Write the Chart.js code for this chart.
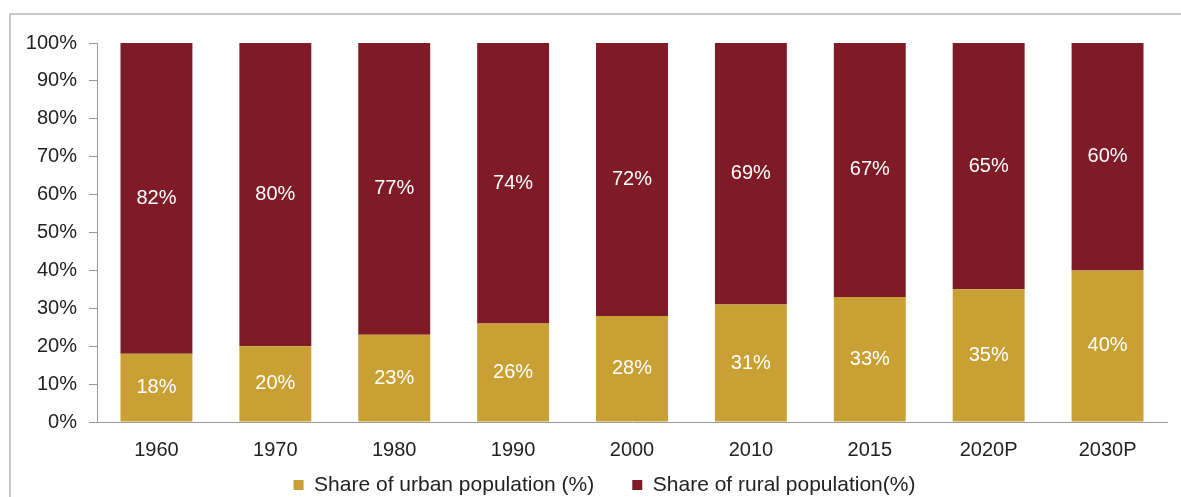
<!DOCTYPE html>
<html>
<head>
<meta charset="utf-8">
<script src="https://cdn.jsdelivr.net/npm/chart.js@4/dist/chart.umd.min.js"></script>
<style>
html,body{margin:0;padding:0;background:#fff;}
#wrap{position:relative;width:1181px;height:497px;}
</style>
</head>
<body>
<div id="wrap"><canvas id="c" width="1181" height="497"></canvas></div>
<script>
const categories = ["1960","1970","1980","1990","2000","2010","2015","2020P","2030P"];
const urbanShare = [18,20,23,26,28,31,33,35,40];
const ruralShare = [82,80,77,74,72,69,67,65,60];
const seriesNames = ["Share of urban population (%)","Share of rural population(%)"];
const yTicks = [0,10,20,30,40,50,60,70,80,90,100];

const FONT = "'Liberation Sans', Arial, sans-serif";
const URBAN = "#c9a034";
const RURAL = "#7f1b26";

const framePlugin = {
  id: 'frame',
  beforeDraw(chart) {
    const ctx = chart.ctx;
    ctx.save();
    ctx.strokeStyle = '#c8c8c8';
    ctx.lineWidth = 2;
    ctx.beginPath();
    ctx.moveTo(10, 497);
    ctx.lineTo(10, 14);
    ctx.lineTo(1181, 14);
    ctx.stroke();
    ctx.restore();
  }
};

// move the legend up so it sits just under the tick labels, as in the reference
const legendPlace = {
  id: 'legendPlace',
  afterLayout(chart) {
    const lg = chart.legend;
    if (!lg) return;
    const pad = lg.options.labels.padding;
    const itemH = lg.options.labels.font.size;
    const newTop = 485 - itemH / 2 - pad;
    const dy = newTop - lg.top;
    lg.top += dy; lg.bottom += dy;
    lg.left += 16; lg.right += 16;
  }
};

const labelPlugin = {
  id: 'segLabels',
  afterDatasetsDraw(chart) {
    const ctx = chart.ctx;
    ctx.save();
    ctx.fillStyle = '#ffffff';
    ctx.font = '20px ' + FONT;
    ctx.textAlign = 'center';
    ctx.textBaseline = 'middle';
    chart.data.datasets.forEach((ds, i) => {
      const meta = chart.getDatasetMeta(i);
      meta.data.forEach((bar, j) => {
        const y = (bar.y + bar.base) / 2;
        ctx.fillText(ds.data[j] + '%', bar.x, y);
      });
    });
    ctx.restore();
  }
};

new Chart(document.getElementById('c'), {
  type: 'bar',
  data: {
    labels: categories,
    datasets: [
      { label: seriesNames[0], data: urbanShare, backgroundColor: URBAN, borderWidth: 0 },
      { label: seriesNames[1], data: ruralShare, backgroundColor: RURAL, borderWidth: 0 }
    ]
  },
  options: {
    responsive: false,
    animation: false,
    categoryPercentage: 1,
    barPercentage: 0.605,
    layout: { padding: { left: 10, right: 14, top: 43, bottom: -42 } },
    plugins: {
      legend: {
        position: 'bottom',
        labels: {
          boxWidth: 10, boxHeight: 10, padding: 38,
          color: '#222', font: { size: 21, family: FONT }
        }
      },
      tooltip: { enabled: false }
    },
    scales: {
      x: {
        stacked: true,
        grid: { display: false, drawTicks: false },
        border: { display: true, color: '#9a9a9a', width: 1 },
        ticks: { color: '#222', font: { size: 20, family: FONT }, padding: 16 },
        afterFit(s) { s.height = 48; }
      },
      y: {
        stacked: true,
        min: 0, max: 100,
        afterFit(s) { s.width = 87; },
        afterBuildTicks(s) { s.ticks = yTicks.map(v => ({ value: v })); },
        grid: { drawOnChartArea: false, drawTicks: true, tickLength: 8, color: '#9a9a9a' },
        border: { display: true, color: '#9a9a9a', width: 1 },
        ticks: { color: '#222', font: { size: 20, family: FONT }, padding: 12, callback: v => v + '%' }
      }
    }
  },
  plugins: [framePlugin, legendPlace, labelPlugin]
});
</script>
</body>
</html>
